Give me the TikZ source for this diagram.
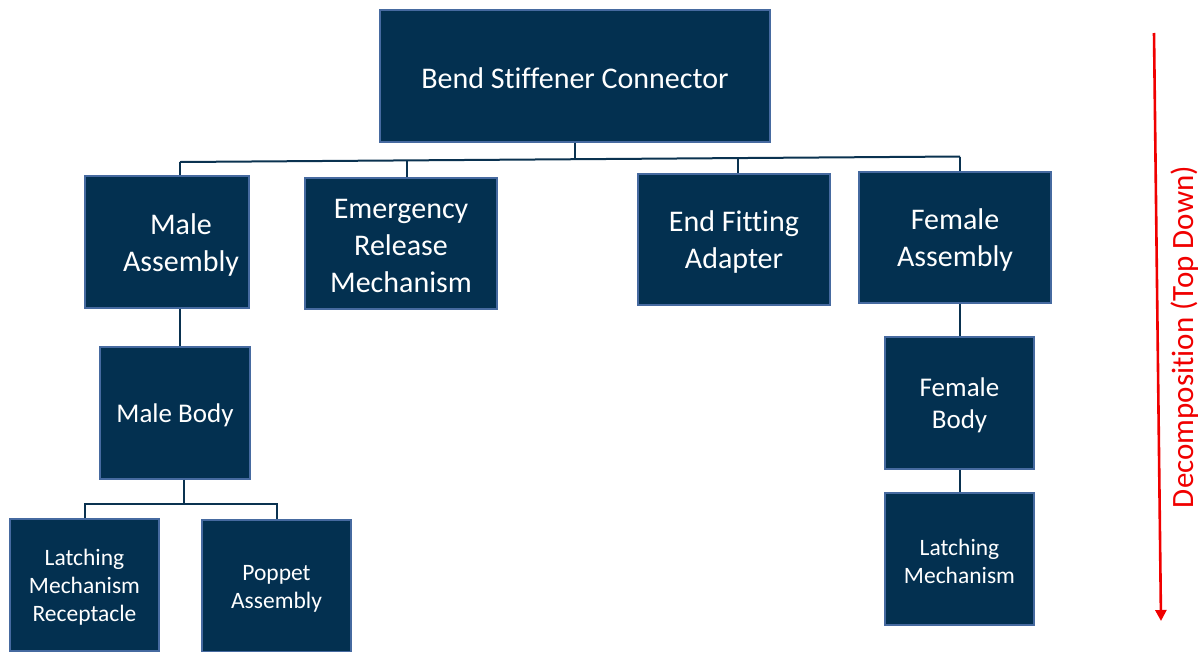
\documentclass[tikz,border=0pt]{standalone}
\usepackage{fontspec}
\setmainfont{Carlito}[Ligatures=NoCommon]
\usetikzlibrary{arrows.meta}
\definecolor{boxfill}{RGB}{3,48,80}
\definecolor{boxedge}{RGB}{70,106,160}
\definecolor{wire}{RGB}{10,50,80}
\definecolor{arrowred}{RGB}{240,0,0}
\tikzset{
  part/.style={draw=boxedge, line width=1.3pt, fill=boxfill,
    inner sep=0pt, anchor=center},
  caption/.style={text=white, inner sep=0pt, align=center, yshift=-2.5pt},
  big/.style={font=\fontsize{30}{37}\selectfont},
  mid/.style={font=\fontsize{27}{32}\selectfont},
  small/.style={font=\fontsize{23.5}{28}\selectfont},
  wirestyle/.style={draw=wire, line width=2pt},
}
\begin{document}
\begin{tikzpicture}[x=1pt,y=-1pt]
\useasboundingbox (0,0) rectangle (1204,651);

% boxes
\node[part, minimum width=390pt, minimum height=132pt] (root) at (575,76) {};
\node[part, minimum width=164pt, minimum height=132pt] (male) at (167,242) {};
\node[part, minimum width=192pt, minimum height=131pt] (erm) at (401,243.5) {};
\node[part, minimum width=192pt, minimum height=131pt] (efa) at (734,239.5) {};
\node[part, minimum width=192pt, minimum height=131pt] (female) at (955,237.5) {};
\node[part, minimum width=150pt, minimum height=132pt] (mbody) at (175,413) {};
\node[part, minimum width=149pt, minimum height=132pt] (fbody) at (959.5,403) {};
\node[part, minimum width=149pt, minimum height=132pt] (lmr) at (84.5,585) {};
\node[part, minimum width=149pt, minimum height=132pt] (pop) at (276.5,586) {};
\node[part, minimum width=149pt, minimum height=132pt] (flm) at (959.5,559) {};

% box texts
\node[caption, big] (rootT) at (root.center) {Bend Stiffener Connector};
\node[caption, big, xshift=14pt] (maleT) at (male.center) {Male\\Assembly};
\node[caption, big] (ermT) at (erm.center) {Emergency\\Release\\Mechanism};
\node[caption, big] (efaT) at (efa.center) {End Fitting\\Adapter};
\node[caption, big] (femaleT) at (female.center) {Female\\Assembly};
\node[caption, mid] (mbodyT) at (mbody.center) {Male Body};
\node[caption, mid] (fbodyT) at (fbody.center) {Female\\Body};
\node[caption, small] (lmrT) at (lmr.center) {Latching\\Mechanism\\Receptacle};
\node[caption, small] (popT) at (pop.center) {Poppet\\Assembly};
\node[caption, small] (flmT) at (flm.center) {Latching\\Mechanism};

% bus under the root
\coordinate (busL) at (180,162);
\coordinate (busM) at (575,158.7);
\coordinate (busR) at (960,156.5);
\draw[wirestyle] (root.south) -- (busM);
\draw[wirestyle] (busL) -- (busR);
\draw[wirestyle] (busL) -- (male.north -| busL);
\draw[wirestyle] (407,160.2) -- (erm.north -| 407,0);
\draw[wirestyle] (738,157.6) -- (efa.north -| 738,0);
\draw[wirestyle] (busR) -- (female.north -| busR);

% male branch
\draw[wirestyle] (male.south -| 180,0) -- (mbody.north -| 180,0);
\coordinate (mbus) at (184,504);
\draw[wirestyle] (mbody.south -| mbus) -- (mbus);
\draw[wirestyle] (lmr.north -| 85,0) -- (85,504) -- (277,504) -- (pop.north -| 277,0);

% female branch
\draw[wirestyle] (female.south -| 960,0) -- (fbody.north -| 960,0);
\draw[wirestyle] (fbody.south -| 960,0) -- (flm.north -| 960,0);

% direction of decomposition
\coordinate (arrTop) at (1154,33);
\coordinate (arrBot) at (1161,621);
\draw[arrowred, line width=2.6pt, -{Triangle[length=11pt,width=11pt]}] (arrTop) -- (arrBot);
\node[text=arrowred, rotate=90, font=\fontsize{31}{34}\selectfont] (dlabel) at (1185,337) {Decomposition (Top Down)};
\end{tikzpicture}
\end{document}
